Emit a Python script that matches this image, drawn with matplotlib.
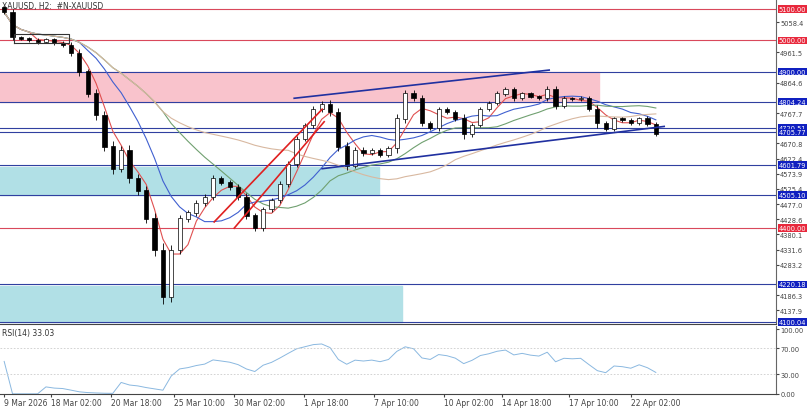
import numpy as np
import pandas as pd
import matplotlib
matplotlib.use("Agg")
import matplotlib.pyplot as plt

# XAUUSD H2 closes
closes = [5090, 5010, 5005, 5000, 4995, 5002, 4990, 4985, 4960, 4900, 4830, 4760, 4660, 4590,
          4650, 4560, 4520, 4430, 4330, 4180, 4330, 4430, 4450, 4480, 4500, 4560, 4545, 4530,
          4500, 4440, 4400, 4460, 4490, 4540, 4605, 4685, 4730, 4780, 4796, 4770, 4660, 4600,
          4650, 4640, 4650, 4635, 4655, 4750, 4830, 4815, 4735, 4720, 4780, 4770, 4750, 4700,
          4730, 4780, 4800, 4830, 4845, 4815, 4830, 4820, 4815, 4845, 4790, 4815, 4812, 4815,
          4780, 4735, 4717, 4750, 4745, 4735, 4750, 4733, 4701]
wick = [12, 20, 8, 10, 15, 9, 12, 14, 18, 25, 20, 30, 28, 35, 22, 30, 26, 30, 40, 45, 30, 25,
        18, 20, 16, 22, 14, 18, 20, 22, 20, 18, 16, 20, 18, 22, 15, 18, 20, 25, 30, 28, 16, 20,
        14, 15, 18, 30, 25, 20, 18, 15, 16, 12, 14, 30, 15, 14, 12, 16, 14, 15, 12, 10, 12, 18,
        16, 12, 10, 12, 14, 30, 12, 10, 12, 12, 12, 14, 12]

date_ticks = ["9 Mar 2026", "18 Mar 02:00", "20 Mar 18:00", "25 Mar 10:00", "30 Mar 02:00",
              "1 Apr 18:00", "7 Apr 10:00", "10 Apr 02:00", "14 Apr 18:00", "17 Apr 10:00",
              "22 Apr 02:00"]
date_px = [0, 47, 107, 170, 230, 300, 370, 440, 498, 565, 627]

levels = [(5100.00, "red"), (5000.00, "red"), (4900.00, "blue"), (4804.24, "blue"),
          (4720.51, "blue"), (4705.77, "blue"), (4601.79, "blue"), (4505.10, "blue"),
          (4400.00, "red"), (4220.18, "blue"), (4100.04, "blue")]
grey_ticks = [5058.40, 4961.50, 4864.60, 4767.70, 4670.80, 4622.35, 4573.90, 4525.45,
              4477.00, 4428.55, 4380.10, 4331.65, 4283.20, 4186.30, 4137.85]

px = 660 / len(closes)  # pixels per candle
n = len(closes)
c = pd.Series(closes, dtype=float)
o = c.shift(1).fillna(c.iloc[0] + 15)
hi = np.maximum(o, c) + np.array(wick) * 0.5
lo = np.minimum(o, c) - np.array(wick) * 0.5

fig = plt.figure(figsize=(8.07, 4.10), dpi=100)
ax = fig.add_axes([0, 0.207, 0.9616, 0.793])
ar = fig.add_axes([0, 0.037, 0.9616, 0.166])
xmax = 776 / px - 0.5

# zones
ax.fill_between([-0.5, 595 / px], 4804, 4900, color="#f9c3cc", zorder=0)
ax.fill_between([-0.5, 375 / px], 4505, 4595, color="#b1e0e6", zorder=0)
ax.fill_between([-0.5, 398 / px], 4100, 4215, color="#b1e0e6", zorder=0)

for lv, col in levels:
    ax.axhline(lv, color="#d9485b" if col == "red" else "#3040a0", lw=0.8, zorder=1)

# moving averages
for win, col in [(4, "#e05050"), (10, "#4060d0"), (20, "#70a070"), (35, "#d8b8a0")]:
    ax.plot(c.rolling(win, min_periods=1).mean(), color=col, lw=0.8, zorder=2)

# candles
for i in range(n):
    ax.vlines(i, lo[i], hi[i], color="black", lw=0.6, zorder=3)
    up = c[i] >= o[i]
    ax.bar(i, abs(c[i] - o[i]) + 1, bottom=min(c[i], o[i]), width=0.5,
           color="white" if up else "black", edgecolor="black", lw=0.5, zorder=4)

# trend channels
ax.plot([290 / px, 545 / px], [4815, 4905], color="#2030a0", lw=1.2, zorder=5)
ax.plot([318 / px, 660 / px], [4590, 4725], color="#2030a0", lw=1.2, zorder=5)
ax.plot([210 / px, 318 / px], [4420, 4780], color="#e02020", lw=1.2, zorder=5)
ax.plot([230 / px, 320 / px], [4400, 4740], color="#e02020", lw=1.2, zorder=5)
ax.plot([10 / px, 65 / px, 65 / px, 10 / px, 10 / px], [4990, 4990, 5020, 5020, 4990],
        color="#333333", lw=0.8, zorder=5)

ax.set_xlim(-0.5, xmax)
ax.set_ylim(4093.6, 5132)
ax.set_xticks([])
ax.yaxis.tick_right()
ax.set_yticks(grey_ticks)
ax.tick_params(axis="y", labelsize=4.8, colors="#444444", length=2, pad=1)
for lv, col in levels:
    ax.text(1.003, lv, f"{lv:.2f}", transform=ax.get_yaxis_transform(), fontsize=4.8,
            color="white", va="center", ha="left",
            bbox=dict(boxstyle="square,pad=0.12", fc="#e8283c" if col == "red" else "#1020c0", ec="none"))
ax.text(0.002, 0.995, "XAUUSD, H2:  #N-XAUUSD", transform=ax.transAxes, fontsize=5.5,
        va="top", color="#333333")

# RSI
d = c.diff()
g = d.clip(lower=0).ewm(alpha=1 / 8, min_periods=1).mean()
l = (-d.clip(upper=0)).ewm(alpha=1 / 8, min_periods=1).mean()
rsi = 100 - 100 / (1 + g / l.replace(0, np.nan))
rsi = rsi.fillna(50)
ar.plot(rsi, color="#8ab8e0", lw=0.7)
for lv in (70, 30):
    ar.axhline(lv, color="#cccccc", lw=0.6, ls=(0, (2, 2)))
ar.set_xlim(-0.5, xmax)
ar.set_ylim(0, 105)
ar.yaxis.tick_right()
ar.set_yticks([0, 30, 70, 100])
ar.set_yticklabels(["0.00", "30.00", "70.00", "100.00"])
ar.tick_params(axis="y", labelsize=4.8, colors="#444444", length=2, pad=1)
ar.set_xticks([p / px for p in date_px])
ar.set_xticklabels(date_ticks)
ar.tick_params(axis="x", labelsize=5.5, colors="#444444", length=2, pad=1)
for lab in ar.get_xticklabels():
    lab.set_ha("left")
ar.text(0.002, 0.97, f"RSI(14) {rsi.iloc[-1]:.2f}", transform=ar.transAxes, fontsize=5.5,
        va="top", color="#333333")
for a in (ax, ar):
    for s in ("top", "left"):
        a.spines[s].set_visible(False)
    a.spines["right"].set_color("#666666")
    a.spines["bottom"].set_color("#444444")

fig.savefig("out.png", dpi=100)
